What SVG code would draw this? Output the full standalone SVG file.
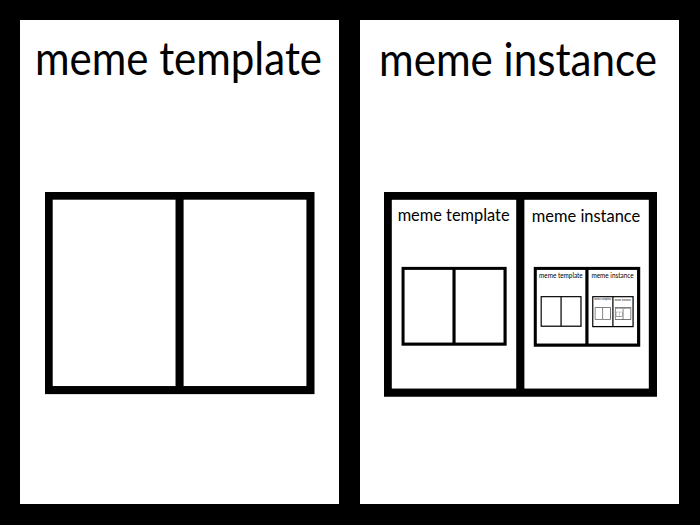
<svg xmlns="http://www.w3.org/2000/svg" xmlns:xlink="http://www.w3.org/1999/xlink" width="700" height="525" viewBox="0 0 700 525">
  <style>
    .bg { fill: #000000; }
    .panel { fill: #ffffff; }
    .title { font-family: Lato, "Open Sans", "Liberation Sans", sans-serif; font-size: 46px; fill: #000000; text-anchor: middle; }
  </style>
  <defs>
    <g id="blank">
      <rect class="bg" x="0" y="0" width="700" height="525"/>
      <rect class="panel" x="20" y="20" width="319" height="484"/>
      <rect class="panel" x="360" y="20" width="319" height="484"/>
    </g>
    <g id="base">
      <use href="#blank" xlink:href="#blank"/>
      <text class="title" x="178.5" y="74.5" textLength="287" lengthAdjust="spacingAndGlyphs">meme template</text>
      <text class="title" x="518" y="76" textLength="278" lengthAdjust="spacingAndGlyphs">meme instance</text>
      <use href="#blank" xlink:href="#blank" transform="translate(45,192) scale(0.385)"/>
    </g>
    <g id="d4">
      <use href="#base" xlink:href="#base"/>
    </g>
    <g id="d3">
      <use href="#base" xlink:href="#base"/>
      <use href="#d4" xlink:href="#d4" transform="translate(384,192) scale(0.39)"/>
    </g>
    <g id="d2">
      <use href="#base" xlink:href="#base"/>
      <use href="#d3" xlink:href="#d3" transform="translate(384,192) scale(0.39)"/>
    </g>
    <g id="d1">
      <use href="#base" xlink:href="#base"/>
      <use href="#d2" xlink:href="#d2" transform="translate(384,192) scale(0.39)"/>
    </g>
  </defs>
  <g id="background">
    <rect class="bg" x="0" y="0" width="700" height="525"/>
  </g>
  <g id="panel-template">
    <rect class="panel" x="20" y="20" width="319" height="484"/>
    <text class="title" x="178.5" y="74.5" textLength="287" lengthAdjust="spacingAndGlyphs">meme template</text>
    <g id="template-frame">
      <use href="#blank" xlink:href="#blank" transform="translate(45,192) scale(0.385)"/>
    </g>
  </g>
  <g id="panel-instance">
    <rect class="panel" x="360" y="20" width="319" height="484"/>
    <text class="title" x="518" y="76" textLength="278" lengthAdjust="spacingAndGlyphs">meme instance</text>
    <g id="instance-frame">
      <use href="#d1" xlink:href="#d1" transform="translate(384,192) scale(0.39)"/>
    </g>
  </g>
</svg>
